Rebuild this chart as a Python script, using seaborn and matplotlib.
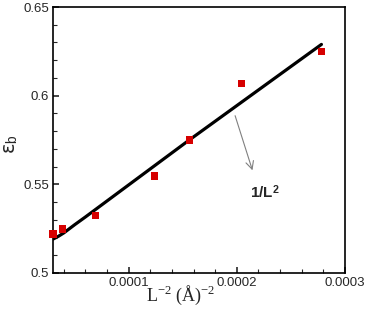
import matplotlib
matplotlib.use("Agg")
import matplotlib.pyplot as plt
import matplotlib.ticker as mticker
import seaborn as sns
import pandas as pd

# data points (red squares)
pts_x = [0.0000300, 0.0000386, 0.0000692, 0.0001235, 0.000156, 0.0002044, 0.0002785]
pts_y = [0.522, 0.5248, 0.5325, 0.5547, 0.575, 0.6069, 0.6251]

# fitted curve (black line)
fit_x = [0.0000303, 0.0000350, 0.0000400, 0.0000450, 0.0000500, 0.0000600, 0.000156, 0.0002782]
fit_y = [0.5192, 0.5207, 0.5226, 0.5249, 0.5272, 0.5316, 0.5750, 0.6289]

xticks = [0.0001, 0.0002, 0.0003]
xtick_labels = ["0.0001", "0.0002", "0.0003"]
yticks = [0.5, 0.55, 0.6, 0.65]
ytick_labels = ["0.5", "0.55", "0.6", "0.65"]

sns.set_style("ticks")
plt.rcParams['font.family'] = ['Liberation Sans', 'DejaVu Sans']
plt.rcParams['mathtext.fontset'] = 'custom'
plt.rcParams['mathtext.rm'] = 'Liberation Serif'
plt.rcParams['mathtext.it'] = 'Liberation Serif:italic'
plt.rcParams['mathtext.bf'] = 'Liberation Sans:bold'
plt.rcParams['mathtext.sf'] = 'Liberation Sans'

fig = plt.figure(figsize=(3.74, 3.10), dpi=100)
ax = fig.add_axes([0.1417, 0.1194, 0.9225 - 0.1417, 0.9774 - 0.1194])

df_fit = pd.DataFrame({"x": fit_x, "y": fit_y})
df_pts = pd.DataFrame({"x": pts_x, "y": pts_y})
sns.lineplot(data=df_fit, x="x", y="y", ax=ax, color="black", linewidth=2.3, sort=False)
sns.scatterplot(data=df_pts, x="x", y="y", ax=ax, marker="s", color="#d60000",
                s=26, edgecolor="none", zorder=3, clip_on=False)

ax.set_xlim(0.00003, 0.0003)
ax.set_ylim(0.5, 0.65)
ax.set_xticks(xticks)
ax.set_xticklabels(xtick_labels)
ax.set_yticks(yticks)
ax.set_yticklabels(ytick_labels)
ax.xaxis.set_minor_locator(mticker.MultipleLocator(0.00002))
ax.yaxis.set_minor_locator(mticker.MultipleLocator(0.01))
ax.tick_params(which="major", direction="in", length=4.3, width=1.2, labelsize=9.5, pad=3)
ax.tick_params(which="minor", direction="in", length=2.8, width=0.8)
for s in ax.spines.values():
    s.set_linewidth(1.2)
    s.set_color("black")

ax.set_xlabel(r"L$^{\mathrm{-2}}$ (Å)$^{\mathrm{-2}}$", family="Liberation Serif", fontsize=13)
ax.xaxis.set_label_coords(0.438, -0.042)
ax.set_ylabel(r"ε$_{\mathsf{b}}$", fontsize=14, family=["DejaVu Sans"])
ax.yaxis.set_label_coords(-0.112, 0.485)

ax.annotate("", xy=(0.0002152, 0.5564), xytext=(0.0001976, 0.5902),
            arrowprops=dict(arrowstyle="->", color="gray", lw=0.8, mutation_scale=14))
ax.text(0.0002263, 0.5457, r"1/L$^{\mathbf{2}}$", fontsize=11, fontweight="bold",
        ha="center", va="center")

fig.savefig("out.png", dpi=100)
